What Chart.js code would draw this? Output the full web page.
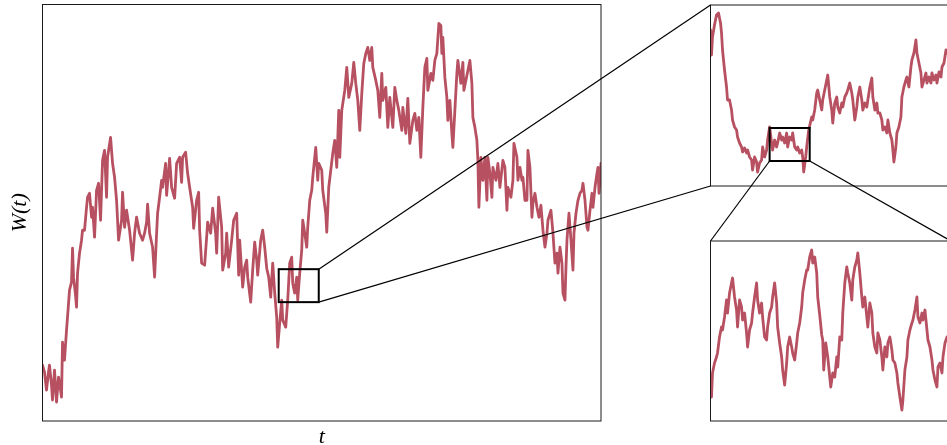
<!DOCTYPE html>
<html>
<head>
<meta charset="utf-8">
<script src="https://cdn.jsdelivr.net/npm/chart.js@4.4.1/dist/chart.umd.min.js"></script>
<style>
  html, body { margin: 0; padding: 0; background: #fff; overflow: hidden; }
  #fig { position: relative; width: 947px; height: 445px; overflow: hidden; }
  #fig canvas { position: absolute; }
  #overlay { left: 0; top: 0; pointer-events: none; }
</style>
</head>
<body>
<div id="fig">
  <canvas id="mainChart" width="610" height="445" style="left:0;top:0"></canvas>
  <canvas id="zoomChart1" width="260" height="195" style="left:700px;top:0"></canvas>
  <canvas id="zoomChart2" width="260" height="190" style="left:700px;top:236px"></canvas>
  <canvas id="overlay" width="947" height="445"></canvas>
</div>
<script>
// Brownian path W(t), full view
const tMain = [0,2,4,6,7,9,10,12,14,16,18,19,20,22,24,25,27,29,30,31,33,34,35,37,39,40,42,44,45,47,49,50,52,54,56,58,60,62,64,65,68,70,72,74,76,79,80,82,84,87,90,92,94,97,
  100,102,104,105,107,110,112,114,115,117,119,120,123,124,127,129,132,134,137,139,140,143,145,147,150,151,154,156,157,159,162,164,165,168,170,173,174,176,179,180,183,184,186,189,191,194,196,
  197,200,202,204,205,208,210,212,214,215,218,220,222,224,226,228,230,232,234,235,237,239,240,243,245,247,249,250,252,254,255,257,259,260,262,264,265,267,269,270,273,275,276,279,280,283,284,286,288,290,292,294,296,
  297,299,302,304,306,309,311,313,315,317,319,321,323,325,327,329,330,333,335,337,339,340,343,345,347,350,352,354,356,359,360,363,365,367,370,372,374,376,378,380,382,384,385,388,390,392,394,396,
  398,399,400,402,404,405,407,409,410,412,414,415,418,420,421,423,425,427,429,430,432,434,435,436,438,440,442,444,445,447,449,450,453,455,457,460,462,464,465,468,470,471,474,475,477,479,480,482,484,485,487,489,490,492,494,496,
  498,500,502,504,505,508,510,512,514,515,517,519,520,522,523,524,526,528,530,531,533,535,537,539,540,542,544,545,547,549,550,552,554,555,556,558];
const wMain = [-1.52,-1.59,-1.77,-1.59,-1.52,-1.72,-1.87,-1.57,-1.89,-1.64,-1.77,-1.84,-1.29,-1.47,-1.17,-1.04,-0.77,-0.69,-0.35,-0.64,-0.82,-0.94,-0.60,-0.40,-0.27,-0.17,-0.17,0.06,0.16,0.20,-0.04,0.06,-0.24,0.23,0.30,-0.07,0.53,0.63,0.16,0.56,0.76,0.50,0.36,0.13,-0.27,-0.07,0.21,-0.14,0.03,-0.17,-0.47,-0.20,-0.04,-0.20,
  -0.27,-0.20,-0.09,0.09,-0.20,-0.34,-0.64,-0.20,0.00,0.16,0.33,0.26,0.50,0.18,0.55,0.26,0.15,0.50,0.56,0.31,0.56,0.61,0.40,0.26,0.06,-0.15,0.13,0.21,-0.17,-0.50,-0.52,-0.24,-0.09,-0.20,0.05,-0.20,-0.40,0.16,-0.14,-0.57,-0.40,-0.20,-0.54,-0.27,-0.07,0.00,-0.62,
  -0.27,-0.74,-0.54,-0.47,-0.64,-0.89,-0.57,-0.29,-0.47,-0.62,-0.27,-0.17,-0.34,-0.55,-0.64,-0.84,-0.50,-0.80,-1.04,-1.34,-1.10,-0.87,-1.07,-1.14,-0.87,-0.50,-0.44,-0.70,-0.80,-0.64,-0.87,-0.60,-0.37,-0.07,-0.20,-0.34,-0.14,0.13,0.23,0.36,0.66,0.33,0.50,0.43,0.23,0.00,-0.19,0.26,0.43,0.60,0.73,0.46,1.03,
  0.56,1.03,1.23,1.46,1.16,1.30,1.51,1.30,1.13,0.83,1.20,1.50,1.60,1.66,1.53,1.66,1.46,1.33,1.23,0.96,1.40,1.13,1.26,0.86,1.16,0.86,1.26,1.13,1.03,0.83,1.06,0.80,1.15,0.70,0.93,1.00,0.83,0.96,0.56,1.06,1.46,1.55,1.23,1.40,1.33,1.53,1.60,1.90,
  1.88,1.60,1.76,1.36,1.16,0.93,1.13,0.80,0.66,1.03,1.40,1.53,1.30,1.51,1.23,1.33,1.43,1.53,1.30,0.96,0.86,0.73,0.53,0.06,0.56,0.33,0.56,0.13,0.56,0.40,0.16,0.46,0.33,0.50,0.26,0.53,0.46,0.03,0.26,0.16,0.33,0.70,0.56,0.33,0.46,0.33,0.36,0.13,0.13,0.63,0.46,-0.04,0.10,0.20,0.06,-0.04,
  0.08,-0.17,-0.34,-0.20,-0.07,0.03,-0.20,-0.50,-0.40,-0.60,-0.34,-0.50,-0.80,-0.87,-0.54,-0.27,0.00,-0.27,-0.57,-0.20,0.00,0.13,0.20,0.23,0.30,0.13,-0.14,-0.17,0.03,0.20,0.06,0.26,0.40,0.46,0.20,0.50];

// First magnification
const tZoom1 = [0,1,2,4,6,8,10,11,12,14,16,17,19,21,22,24,26,27,29,31,32,34,36,37,39,41,42,44,46,47,49,51,52,54,56,57,59,61,62,64,66,67,69,71,72,74,76,77,79,81,82,84,86,87,89,91,92,93,95,96,98,
  101,102,104,106,107,109,111,112,114,116,117,119,121,122,124,126,127,129,131,132,134,136,137,139,141,142,144,146,147,149,151,152,154,156,157,159,161,162,164,166,167,169,171,172,174,176,177,179,181,182,183,185,186,188,190,191,193,195,196,198,
  200,201,203,205,206,208,210,211,213,215,216,218,220,221,223,225,226,228,230,231,233,235,236];
const wZoom1 = [0.65,0.40,0.58,0.70,0.80,0.82,0.72,0.62,0.45,0.25,0.08,-0.05,-0.05,-0.15,-0.25,-0.32,-0.35,-0.42,-0.48,-0.52,-0.57,-0.53,-0.58,-0.55,-0.62,-0.65,-0.75,-0.62,-0.67,-0.77,-0.68,-0.65,-0.52,-0.62,-0.55,-0.45,-0.32,-0.48,-0.55,-0.45,-0.52,-0.48,-0.38,-0.45,-0.42,-0.48,-0.38,-0.52,-0.42,-0.45,-0.38,-0.52,-0.55,-0.52,-0.58,-0.55,-0.62,-0.77,-0.62,-0.52,-0.35,
  -0.22,-0.25,-0.15,0.02,0.05,-0.05,-0.15,-0.05,0.05,0.15,0.20,-0.02,-0.15,-0.28,-0.08,-0.02,-0.12,-0.18,-0.08,-0.12,-0.02,0.02,0.05,0.12,0.02,-0.05,-0.25,-0.12,-0.02,0.08,-0.05,-0.15,-0.08,-0.12,-0.05,0.08,0.17,-0.02,-0.15,-0.08,-0.18,-0.18,-0.25,-0.35,-0.32,-0.38,-0.25,-0.38,-0.45,-0.55,-0.67,-0.52,-0.38,-0.32,-0.22,-0.02,0.08,0.15,0.18,0.08,
  0.28,0.35,0.42,0.55,0.42,0.32,0.22,0.08,0.15,0.22,0.12,0.18,0.12,0.22,0.15,0.20,0.12,0.23,0.18,0.28,0.32,0.45,0.42];

// Second magnification
const tZoom2 = [0,1,2,4,6,7,9,11,12,14,16,17,19,21,22,24,26,27,29,31,32,34,36,37,39,41,42,44,46,47,49,51,52,54,56,57,59,61,62,64,66,67,69,71,72,74,76,77,79,81,82,84,86,87,89,91,92,94,96,97,99,
  101,102,104,106,107,109,111,112,113,115,117,120,122,124,126,127,129,131,132,134,136,137,139,141,142,144,146,147,149,151,152,154,156,157,159,161,162,164,166,167,169,171,172,174,176,177,179,181,182,184,186,187,189,191,192,194,196,197,199,
  201,202,204,206,207,209,211,212,214,216,217,219,221,222,224,226,227,229,231,232,234,236];
const wZoom2 = [-0.46,-0.66,-0.42,-0.32,-0.26,-0.22,-0.06,0.04,0.01,0.14,0.31,0.18,0.38,0.48,0.53,0.34,0.21,0.04,0.31,0.24,0.11,0.18,-0.02,-0.16,0.01,0.08,0.18,0.34,0.48,0.31,0.18,0.28,0.14,-0.06,-0.09,0.04,0.18,0.24,0.34,0.48,0.28,0.04,-0.12,-0.26,-0.39,-0.54,-0.32,-0.16,-0.06,-0.16,-0.22,-0.29,-0.12,-0.02,0.08,0.24,0.38,0.51,0.61,0.61,0.74,
  0.81,0.68,0.74,0.58,0.34,0.16,-0.04,-0.09,-0.39,-0.12,-0.26,-0.56,-0.42,-0.46,-0.26,-0.36,-0.06,-0.09,0.18,0.48,0.64,0.58,0.48,0.31,0.51,0.64,0.71,0.78,0.58,0.34,0.24,0.34,0.14,0.04,0.28,0.18,-0.02,-0.16,-0.22,-0.02,-0.09,-0.26,-0.39,-0.16,-0.26,-0.12,-0.06,-0.19,-0.29,-0.32,-0.42,-0.52,-0.66,-0.79,-0.69,-0.39,-0.26,-0.09,0.01,
  0.08,0.11,0.21,0.34,0.14,0.08,0.18,0.11,0.21,0.01,-0.09,-0.16,-0.29,-0.39,-0.49,-0.56,-0.36,-0.32,-0.42,-0.26,-0.12,-0.06];

// Axis windows (t range, W range) and the highlighted sub-windows
const mainRange = { tMin: 0, tMax: 558, wMin: -2.08, wMax: 2.09 };
const zoomRange1 = { tMin: 0, tMax: 240, wMin: -0.91, wMax: 0.90 };
const zoomRange2 = { tMin: 0, tMax: 240, wMin: -0.90, wMax: 0.90 };
const mainWindow = { t0: 236, t1: 276, w0: -0.89, w1: -0.56 };
const zoomWindow1 = { t0: 59, t1: 99, w0: -0.66, w1: -0.33 };

const lineColor = 'rgb(183, 81, 97)';
const frameColor = '#1a1a1a';
const serif = "'Liberation Serif', 'DejaVu Serif', serif";

// Axes frame on all four sides
const framePlugin = {
  id: 'frame',
  afterDraw(chart) {
    const { ctx, chartArea: a } = chart;
    ctx.save();
    ctx.strokeStyle = frameColor;
    ctx.lineWidth = 1;
    ctx.strokeRect(a.left, a.top, a.right - a.left, a.bottom - a.top);
    ctx.restore();
  }
};

function pathDataset(ts, ws) {
  return {
    data: ts.map((t, i) => ({ x: t, y: ws[i] })),
    borderColor: lineColor,
    borderWidth: 2.8,
    borderJoinStyle: 'round',
    borderCapStyle: 'round',
    pointRadius: 0,
    tension: 0,
    fill: false
  };
}

function makeChart(id, ts, ws, range, padding, withTitles) {
  return new Chart(document.getElementById(id), {
    type: 'line',
    data: { datasets: [pathDataset(ts, ws)] },
    options: {
      responsive: false,
      animation: false,
      events: [],
      layout: { padding: padding, autoPadding: false },
      plugins: { legend: { display: false }, tooltip: { enabled: false } },
      scales: {
        x: {
          type: 'linear',
          min: range.tMin, max: range.tMax,
          display: withTitles,
          grid: { display: false },
          border: { display: false },
          ticks: { display: false },
          title: {
            display: withTitles, text: 't', color: '#000',
            font: { family: serif, size: 22, style: 'italic', lineHeight: 0.7 },
            padding: { top: 0, bottom: 0 }
          },
          afterFit(s) { if (withTitles) s.height = 24; }
        },
        y: {
          min: range.wMin, max: range.wMax,
          display: withTitles,
          grid: { display: false },
          border: { display: false },
          ticks: { display: false },
          title: {
            display: withTitles, text: 'W(t)', color: '#000',
            font: { family: serif, size: 22, style: 'italic', lineHeight: 1 },
            padding: { top: 9, bottom: 0 }
          },
          afterFit(s) { if (withTitles) s.width = 42.5; }
        }
      }
    },
    plugins: [framePlugin]
  });
}

const mainChart = makeChart('mainChart', tMain, wMain, mainRange, { top: 4.5, right: 9, left: 0, bottom: 0 }, true);
const zoomChart1 = makeChart('zoomChart1', tZoom1, wZoom1, zoomRange1, { left: 10.5, top: 5, right: 9, bottom: 9 }, false);
const zoomChart2 = makeChart('zoomChart2', tZoom2, wZoom2, zoomRange2, { left: 10.5, top: 5, right: 9, bottom: 5 }, false);

// Position of a data point on the whole figure
function figPoint(chart, t, w) {
  const c = chart.canvas;
  return [c.offsetLeft + chart.scales.x.getPixelForValue(t), c.offsetTop + chart.scales.y.getPixelForValue(w)];
}

function figArea(chart) {
  const c = chart.canvas, a = chart.chartArea;
  return { left: c.offsetLeft + a.left, right: c.offsetLeft + a.right, top: c.offsetTop + a.top, bottom: c.offsetTop + a.bottom };
}

// Inset markers: window rectangles and connector lines
function drawInsetMarkers() {
  const ctx = document.getElementById('overlay').getContext('2d');
  ctx.strokeStyle = '#000';

  function box(chart, win) {
    const [x0, y0] = figPoint(chart, win.t0, win.w1);
    const [x1, y1] = figPoint(chart, win.t1, win.w0);
    ctx.lineWidth = 2;
    ctx.strokeRect(x0, y0, x1 - x0, y1 - y0);
    return { left: x0, right: x1, top: y0, bottom: y1 };
  }
  function line(p, q) {
    ctx.lineWidth = 1.2;
    ctx.beginPath();
    ctx.moveTo(p[0], p[1]);
    ctx.lineTo(q[0], q[1]);
    ctx.stroke();
  }

  const b0 = box(mainChart, mainWindow);
  const a1 = figArea(zoomChart1);
  line([b0.right, b0.top], [a1.left, a1.top]);
  line([b0.right, b0.bottom], [a1.left, a1.bottom]);

  const b1 = box(zoomChart1, zoomWindow1);
  const a2 = figArea(zoomChart2);
  line([b1.left, b1.bottom], [a2.left, a2.top]);
  line([b1.right, b1.bottom], [a2.right, a2.top]);
}

drawInsetMarkers();
</script>
</body>
</html>
